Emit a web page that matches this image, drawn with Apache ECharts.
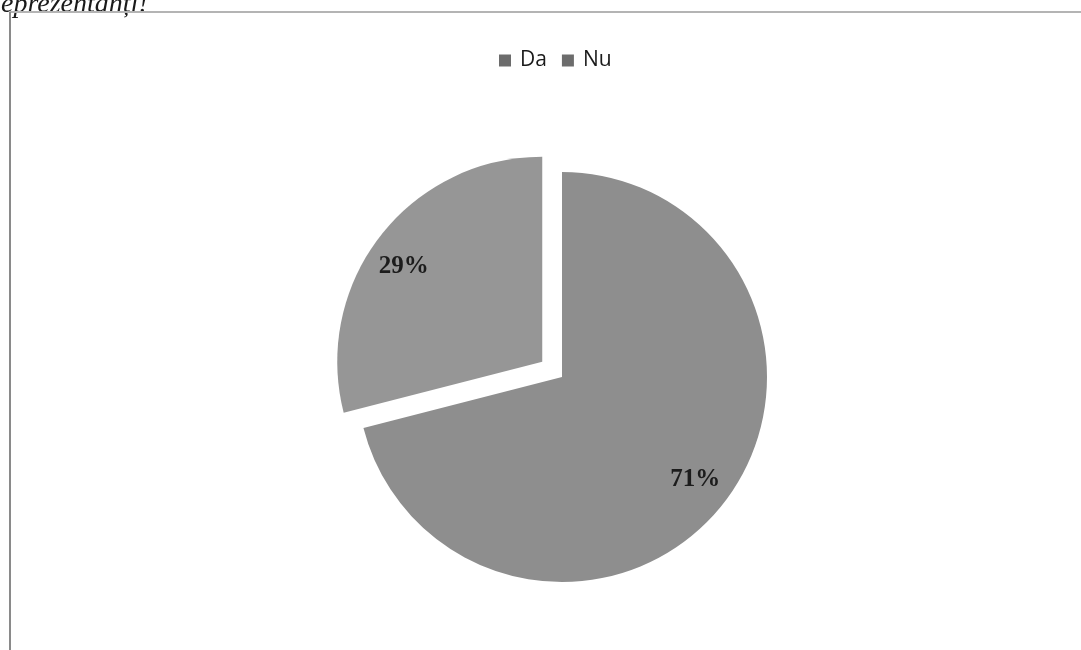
<!DOCTYPE html>
<html>
<head>
<meta charset="utf-8">
<script src="https://cdn.jsdelivr.net/npm/echarts@6/dist/echarts.min.js"></script>
<style>
html,body{margin:0;padding:0;background:#fff;}
#c{width:1081px;height:650px;}
</style>
</head>
<body>
<div id="c"></div>
<script>
const categories = ['Da', 'Nu'];
const values = [71, 29];
const sliceColors = ['#8e8e8e', '#969696'];
const labelTexts = ['71%', '29%'];
const explodedCategory = 'Nu';

const chart = echarts.init(document.getElementById('c'), null, {renderer: 'canvas'});
const labelOffsets = {Da: [50, 38], Nu: [-36, -18]};

function labelStyle(c, i) {
  return {
    show: true,
    position: 'inside',
    formatter: labelTexts[i],
    offset: labelOffsets[c],
    fontFamily: '"Liberation Serif"',
    fontWeight: 'bold',
    fontSize: 25,
    color: '#1c1c1c'
  };
}

chart.setOption({
  animation: false,
  backgroundColor: '#ffffff',
  graphic: [
    {type: 'text', left: 1, top: -9, style: {text: 'eprezentanți!', font: 'italic 28px "Liberation Serif"', fill: '#1a1a1a'}},
    {type: 'line', shape: {x1: 10, y1: 12, x2: 1081, y2: 12}, style: {stroke: '#b4b4b4', lineWidth: 2}},
    {type: 'line', shape: {x1: 10, y1: 12, x2: 10, y2: 650}, style: {stroke: '#8a8a8a', lineWidth: 2}}
  ],
  legend: {
    top: 45,
    left: 494,
    itemWidth: 12,
    itemHeight: 12,
    itemGap: 15,
    icon: 'rect',
    textStyle: {fontFamily: '"Open Sans"', fontSize: 21, color: '#1a1a1a', padding: [0, 0, 0, 4]},
    data: categories.map((c) => ({name: c, itemStyle: {color: '#6c6c6c'}}))
  },
  series: [{
    type: 'pie',
    center: [562, 377],
    radius: 205,
    startAngle: 90,
    clockwise: true,
    selectedMode: 'multiple',
    selectedOffset: 25,
    emphasis: {disabled: true},
    labelLine: {show: false},
    data: categories.map((c, i) => ({
      name: c,
      value: values[i],
      selected: c === explodedCategory,
      itemStyle: {color: sliceColors[i]},
      label: labelStyle(c, i),
      select: {label: labelStyle(c, i), itemStyle: {color: sliceColors[i]}}
    }))
  }]
});
</script>
</body>
</html>
